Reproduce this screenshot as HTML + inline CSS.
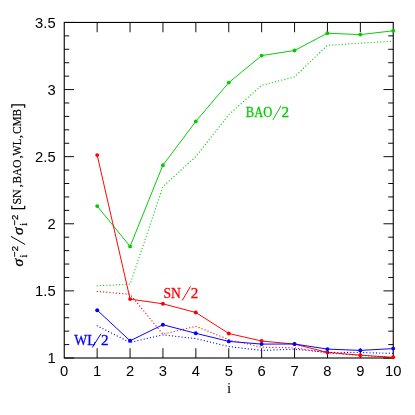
<!DOCTYPE html><html><head><meta charset="utf-8"><style>html,body{margin:0;padding:0;background:#fff}svg{display:block;will-change:transform;opacity:.999}text{font-family:"Liberation Sans",sans-serif}.s{font-family:"Liberation Serif",serif}</style></head><body>
<svg width="415" height="415" viewBox="0 0 415 415">
<rect width="415" height="415" fill="#fff"/>
<path d="M97.15,358.0 v-9.8 M97.15,22.45 v9.8 M130.05,358.0 v-9.8 M130.05,22.45 v9.8 M162.95,358.0 v-9.8 M162.95,22.45 v9.8 M195.85,358.0 v-9.8 M195.85,22.45 v9.8 M228.75,358.0 v-9.8 M228.75,22.45 v9.8 M261.65,358.0 v-9.8 M261.65,22.45 v9.8 M294.55,358.0 v-9.8 M294.55,22.45 v9.8 M327.45,358.0 v-9.8 M327.45,22.45 v9.8 M360.35,358.0 v-9.8 M360.35,22.45 v9.8 M64.25,358.00 h9.8 M393.25,358.00 h-9.8 M64.25,344.58 h5.0 M393.25,344.58 h-5.0 M64.25,331.16 h5.0 M393.25,331.16 h-5.0 M64.25,317.73 h5.0 M393.25,317.73 h-5.0 M64.25,304.31 h5.0 M393.25,304.31 h-5.0 M64.25,290.89 h9.8 M393.25,290.89 h-9.8 M64.25,277.47 h5.0 M393.25,277.47 h-5.0 M64.25,264.05 h5.0 M393.25,264.05 h-5.0 M64.25,250.62 h5.0 M393.25,250.62 h-5.0 M64.25,237.20 h5.0 M393.25,237.20 h-5.0 M64.25,223.78 h9.8 M393.25,223.78 h-9.8 M64.25,210.36 h5.0 M393.25,210.36 h-5.0 M64.25,196.94 h5.0 M393.25,196.94 h-5.0 M64.25,183.51 h5.0 M393.25,183.51 h-5.0 M64.25,170.09 h5.0 M393.25,170.09 h-5.0 M64.25,156.67 h9.8 M393.25,156.67 h-9.8 M64.25,143.25 h5.0 M393.25,143.25 h-5.0 M64.25,129.83 h5.0 M393.25,129.83 h-5.0 M64.25,116.40 h5.0 M393.25,116.40 h-5.0 M64.25,102.98 h5.0 M393.25,102.98 h-5.0 M64.25,89.56 h9.8 M393.25,89.56 h-9.8 M64.25,76.14 h5.0 M393.25,76.14 h-5.0 M64.25,62.72 h5.0 M393.25,62.72 h-5.0 M64.25,49.29 h5.0 M393.25,49.29 h-5.0 M64.25,35.87 h5.0 M393.25,35.87 h-5.0 M64.25,22.45 h9.8 M393.25,22.45 h-9.8" stroke="#000" stroke-width="0.95" fill="none"/>
<rect x="64.25" y="22.45" width="329.00" height="335.55" fill="none" stroke="#000" stroke-width="1.1"/>
<polyline points="97.2,285.8 130.1,284.2 162.9,186.6 195.8,156.6 228.8,114.7 261.6,85.3 294.5,76.9 327.4,45.3 360.3,43.2 393.2,41.2" fill="none" stroke="#00cd00" stroke-width="1.25" stroke-linecap="round" stroke-dasharray="0.01 3.2"/>
<polyline points="97.2,206.1 130.1,246.4 162.9,165.2 195.8,121.4 228.8,82.6 261.6,55.6 294.5,50.5 327.4,33.2 360.3,34.6 393.2,30.8" fill="none" stroke="#00cd00" stroke-width="0.98"/>
<circle cx="97.2" cy="206.1" r="1.95" fill="#00cd00"/><circle cx="130.1" cy="246.4" r="1.95" fill="#00cd00"/><circle cx="162.9" cy="165.2" r="1.95" fill="#00cd00"/><circle cx="195.8" cy="121.4" r="1.95" fill="#00cd00"/><circle cx="228.8" cy="82.6" r="1.95" fill="#00cd00"/><circle cx="261.6" cy="55.6" r="1.95" fill="#00cd00"/><circle cx="294.5" cy="50.5" r="1.95" fill="#00cd00"/><circle cx="327.4" cy="33.2" r="1.95" fill="#00cd00"/><circle cx="360.3" cy="34.6" r="1.95" fill="#00cd00"/><circle cx="393.2" cy="30.8" r="1.95" fill="#00cd00"/>
<polyline points="97.2,291.4 130.1,294.3 162.9,334.2 195.8,326.3 228.8,339.6 261.6,347.2 294.5,347.8 327.4,353.0 360.3,355.4 393.2,357.4" fill="none" stroke="#ff0000" stroke-width="1.25" stroke-linecap="round" stroke-dasharray="0.01 3.2"/>
<polyline points="97.2,155.1 130.1,299.1 162.9,303.8 195.8,312.5 228.8,333.5 261.6,341.0 294.5,344.1 327.4,352.4 360.3,355.2 393.2,357.3" fill="none" stroke="#ff0000" stroke-width="0.98"/>
<circle cx="97.2" cy="155.1" r="1.95" fill="#ff0000"/><circle cx="130.1" cy="299.1" r="1.95" fill="#ff0000"/><circle cx="162.9" cy="303.8" r="1.95" fill="#ff0000"/><circle cx="195.8" cy="312.5" r="1.95" fill="#ff0000"/><circle cx="228.8" cy="333.5" r="1.95" fill="#ff0000"/><circle cx="261.6" cy="341.0" r="1.95" fill="#ff0000"/><circle cx="294.5" cy="344.1" r="1.95" fill="#ff0000"/><circle cx="327.4" cy="352.4" r="1.95" fill="#ff0000"/><circle cx="360.3" cy="355.2" r="1.95" fill="#ff0000"/><circle cx="393.2" cy="357.3" r="1.95" fill="#ff0000"/>
<polyline points="97.2,325.8 130.1,342.5 162.9,334.8 195.8,338.6 228.8,346.5 261.6,350.4 294.5,349.2 327.4,352.2 360.3,352.6 393.2,353.3" fill="none" stroke="#0000ff" stroke-width="1.25" stroke-linecap="round" stroke-dasharray="0.01 3.2"/>
<polyline points="97.2,310.2 130.1,340.8 162.9,324.7 195.8,333.3 228.8,341.4 261.6,344.1 294.5,344.0 327.4,349.1 360.3,350.4 393.2,348.6" fill="none" stroke="#0000ff" stroke-width="0.98"/>
<circle cx="97.2" cy="310.2" r="1.95" fill="#0000ff"/><circle cx="130.1" cy="340.8" r="1.95" fill="#0000ff"/><circle cx="162.9" cy="324.7" r="1.95" fill="#0000ff"/><circle cx="195.8" cy="333.3" r="1.95" fill="#0000ff"/><circle cx="228.8" cy="341.4" r="1.95" fill="#0000ff"/><circle cx="261.6" cy="344.1" r="1.95" fill="#0000ff"/><circle cx="294.5" cy="344.0" r="1.95" fill="#0000ff"/><circle cx="327.4" cy="349.1" r="1.95" fill="#0000ff"/><circle cx="360.3" cy="350.4" r="1.95" fill="#0000ff"/><circle cx="393.2" cy="348.6" r="1.95" fill="#0000ff"/>
<text transform="translate(64.2,375.8) scale(1.07,1)" font-size="13.8" text-anchor="middle">0</text>
<text transform="translate(97.2,375.8) scale(1.07,1)" font-size="13.8" text-anchor="middle">1</text>
<text transform="translate(130.1,375.8) scale(1.07,1)" font-size="13.8" text-anchor="middle">2</text>
<text transform="translate(162.9,375.8) scale(1.07,1)" font-size="13.8" text-anchor="middle">3</text>
<text transform="translate(195.8,375.8) scale(1.07,1)" font-size="13.8" text-anchor="middle">4</text>
<text transform="translate(228.8,375.8) scale(1.07,1)" font-size="13.8" text-anchor="middle">5</text>
<text transform="translate(261.6,375.8) scale(1.07,1)" font-size="13.8" text-anchor="middle">6</text>
<text transform="translate(294.5,375.8) scale(1.07,1)" font-size="13.8" text-anchor="middle">7</text>
<text transform="translate(327.4,375.8) scale(1.07,1)" font-size="13.8" text-anchor="middle">8</text>
<text transform="translate(360.3,375.8) scale(1.07,1)" font-size="13.8" text-anchor="middle">9</text>
<text transform="translate(393.2,375.8) scale(1.07,1)" font-size="13.8" text-anchor="middle">10</text>
<text transform="translate(55.6,363.2) scale(1.07,1)" font-size="13.8" text-anchor="end">1</text>
<text transform="translate(55.6,296.1) scale(1.07,1)" font-size="13.8" text-anchor="end">1.5</text>
<text transform="translate(55.6,229.0) scale(1.07,1)" font-size="13.8" text-anchor="end">2</text>
<text transform="translate(55.6,161.9) scale(1.07,1)" font-size="13.8" text-anchor="end">2.5</text>
<text transform="translate(55.6,94.8) scale(1.07,1)" font-size="13.8" text-anchor="end">3</text>
<text transform="translate(55.6,27.6) scale(1.07,1)" font-size="13.8" text-anchor="end">3.5</text>
<text class="s" x="229" y="393.3" font-size="15" text-anchor="middle">i</text>
<text class="s" x="245.8" y="116.6" font-size="13.8" fill="#00cd00" stroke="#00cd00" stroke-width="0.28" textLength="26.4" lengthAdjust="spacingAndGlyphs">BAO</text><text class="s" x="281.4" y="116.6" font-size="13.8" fill="#00cd00" stroke="#00cd00" stroke-width="0.28" textLength="7.6" lengthAdjust="spacingAndGlyphs">2</text><line x1="272.9" y1="119.9" x2="281.1" y2="105.6" stroke="#00cd00" stroke-width="1"/>
<text class="s" x="163.4" y="297.5" font-size="13.8" fill="#ff0000" stroke="#ff0000" stroke-width="0.28" textLength="17.4" lengthAdjust="spacingAndGlyphs">SN</text><text class="s" x="190.7" y="297.5" font-size="13.8" fill="#ff0000" stroke="#ff0000" stroke-width="0.28" textLength="7.6" lengthAdjust="spacingAndGlyphs">2</text><line x1="182.2" y1="300.5" x2="190.5" y2="286.4" stroke="#ff0000" stroke-width="1"/>
<text class="s" x="74.3" y="344.6" font-size="13.8" fill="#0000ff" stroke="#0000ff" stroke-width="0.28" textLength="21.4" lengthAdjust="spacingAndGlyphs">WL</text><text class="s" x="101.0" y="344.6" font-size="13.8" fill="#0000ff" stroke="#0000ff" stroke-width="0.28" textLength="7.6" lengthAdjust="spacingAndGlyphs">2</text><line x1="92.3" y1="347.5" x2="101.0" y2="333.7" stroke="#0000ff" stroke-width="1"/>
<g transform="translate(21.5,264.6) rotate(-90)"><text class="s" x="-1.9" y="1" font-size="15.5" font-style="italic" stroke="#000" stroke-width="0.3">σ</text><text class="s" x="29.5" y="1" font-size="15.5" font-style="italic" stroke="#000" stroke-width="0.3">σ</text><text x="7.7" y="-3.4" font-size="9.6" stroke="#000" stroke-width="0.25">−2</text><text x="39.1" y="-3.4" font-size="9.6" stroke="#000" stroke-width="0.25">−2</text><text class="s" x="7.2" y="5.3" font-size="10" stroke="#000" stroke-width="0.25">i</text><text class="s" x="38.8" y="5.3" font-size="10" stroke="#000" stroke-width="0.25">i</text><line x1="20.1" y1="3.7" x2="28.3" y2="-10.7" stroke="#000" stroke-width="1"/><path d="M58.8,-9.7 H55.9 V3.2 H58.8 M156.9,-9.7 H159.8 V3.2 H156.9" fill="none" stroke="#000" stroke-width="1.2"/><text class="s" x="60.0" y="-0.2" font-size="13.5" stroke="#000" stroke-width="0.2" textLength="15.3" lengthAdjust="spacingAndGlyphs">SN</text><text class="s" x="81.2" y="-0.2" font-size="13.5" stroke="#000" stroke-width="0.2" textLength="23.8" lengthAdjust="spacingAndGlyphs">BAO</text><text class="s" x="108.8" y="-0.2" font-size="13.5" stroke="#000" stroke-width="0.2" textLength="17.2" lengthAdjust="spacingAndGlyphs">WL</text><text class="s" x="130.5" y="-0.2" font-size="13.5" stroke="#000" stroke-width="0.2" textLength="25.2" lengthAdjust="spacingAndGlyphs">CMB</text><text class="s" x="77.2" y="-0.2" font-size="13.5" stroke="#000" stroke-width="0.2">,</text><text class="s" x="106.1" y="-0.2" font-size="13.5" stroke="#000" stroke-width="0.2">,</text><text class="s" x="126.3" y="-0.2" font-size="13.5" stroke="#000" stroke-width="0.2">,</text></g>
</svg></body></html>
